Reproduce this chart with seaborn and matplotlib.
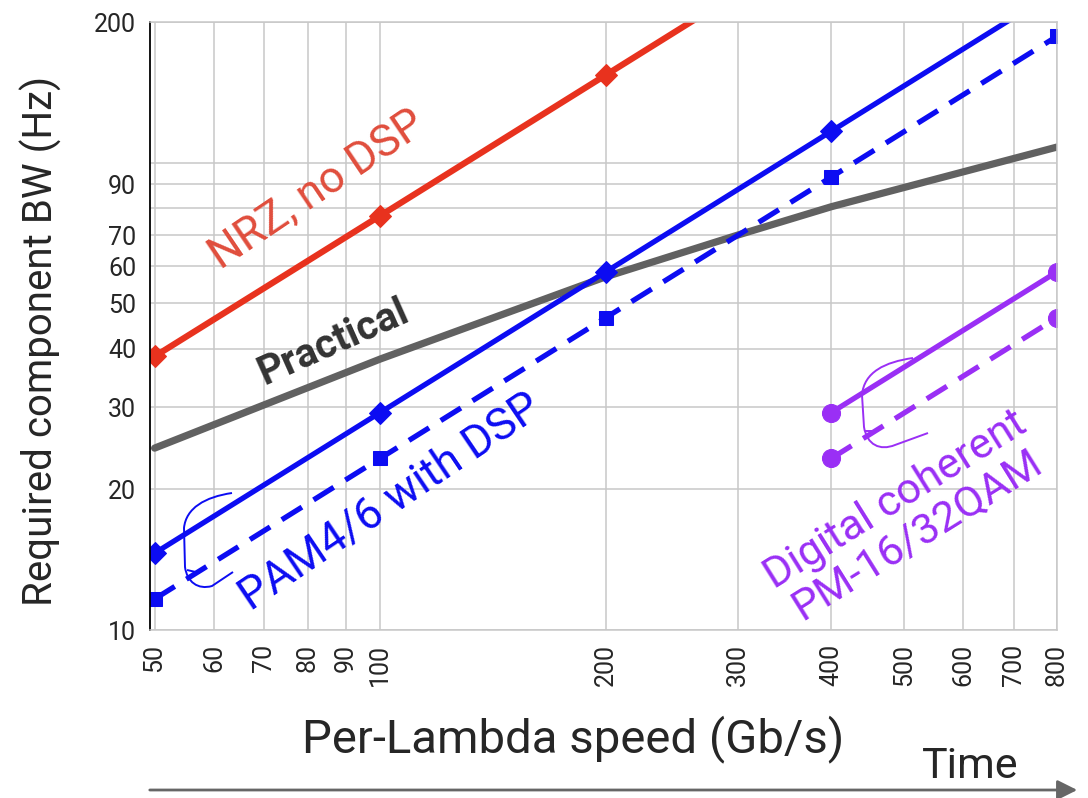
import numpy as np
import pandas as pd
import seaborn as sns
import matplotlib.pyplot as plt
from matplotlib.path import Path
from matplotlib.patches import PathPatch

# Dados
speed = [50, 100, 200, 400, 800]
nrz_x = [50, 100, 200, 400]
nrz_bw = [38.5, 77, 154, 308]
pam_bw = [14.6, 29.2, 58.4, 116.8, 233.6]
pam_bw_dash = [11.65, 23.3, 46.6, 93.2, 186.4]
practical_x = [50, 100, 200, 300, 400, 800]
practical_bw = [24.5, 38, 57, 70, 80.5, 108]
coh_x = [400, 800]
coh_bw = [29.2, 58.4]
coh_bw_dash = [23.3, 46.6]

xticks = [50, 60, 70, 80, 90, 100, 200, 300, 400, 500, 600, 700, 800]
yticks = [10, 20, 30, 40, 50, 60, 70, 80, 90, 100, 200]
ylabels = ['10', '20', '30', '40', '50', '60', '70', '', '90', '', '200']

RED = '#e8321e'
BLUE = '#0c0cf2'
PURPLE = '#9a2ff5'
GRAY = '#616161'

sns.set_style('white')
plt.rcParams['font.family'] = ['Roboto', 'DejaVu Sans']

fig = plt.figure(figsize=(10.88, 7.98), dpi=100)
ax = fig.add_axes([150 / 1088, 168 / 798, 907 / 1088, 608 / 798])

# Linhas
sns.lineplot(x=nrz_x, y=nrz_bw, ax=ax, color=RED, lw=4.5, marker='D', ms=11, mec=RED)
sns.lineplot(x=practical_x, y=practical_bw, ax=ax, color=GRAY, lw=5.2)
sns.lineplot(x=speed, y=pam_bw, ax=ax, color=BLUE, lw=3.8, marker='D', ms=11, mec=BLUE)
sns.lineplot(x=speed, y=pam_bw_dash, ax=ax, color=BLUE, lw=3.8, linestyle=(0, (4.5, 2.6)),
             marker='s', ms=10, mec=BLUE)
sns.lineplot(x=coh_x, y=coh_bw, ax=ax, color=PURPLE, lw=3.8, marker='o', ms=13, mec=PURPLE)
sns.lineplot(x=coh_x, y=coh_bw_dash, ax=ax, color=PURPLE, lw=3.8, linestyle=(0, (4.5, 2.6)),
             marker='o', ms=13, mec=PURPLE)

ax.set_xscale('log')
ax.set_yscale('log')
ax.set_xlim(49.3, 800)
ax.set_ylim(10, 200)
ax.set_xticks(xticks)
ax.set_xticklabels([str(t) for t in xticks], rotation=90)
ax.set_yticks(yticks)
ax.set_yticklabels(ylabels)
ax.minorticks_off()
ax.grid(True, color='#c8c8c8', lw=1.1)
ax.tick_params(axis='y', direction='in', length=11, width=1.2, color='black', labelsize=18, pad=10)
ax.tick_params(axis='x', length=0, labelsize=18, pad=10)

for s in ['top', 'right', 'bottom']:
    ax.spines[s].set_color('#c8c8c8')
    ax.spines[s].set_linewidth(1.1)
ax.spines['left'].set_color('black')
ax.spines['left'].set_linewidth(1.3)

ax.set_xlabel('Per-Lambda speed (Gb/s)', fontsize=34)
ax.xaxis.set_label_coords(0.467, -0.14)
ax.set_ylabel('Required component BW (Hz)', fontsize=29)
ax.yaxis.set_label_coords(-0.097, 0.475)

# Rótulos das curvas
def px(x, y):
    return ((x - 150) / 907, (630 - y) / 608)

ax.text(*px(317, 190), 'NRZ, no DSP', transform=ax.transAxes, color='#e04d3c', fontsize=32,
        rotation=34, ha='center', va='center', rotation_mode='anchor')
ax.text(*px(333, 342), 'Practical', transform=ax.transAxes, color='#333333', fontsize=29,
        fontweight='bold', rotation=24, ha='center', va='center', rotation_mode='anchor')
ax.text(*px(390, 502), 'PAM4/6 with DSP', transform=ax.transAxes, color=BLUE, fontsize=32,
        rotation=34, ha='center', va='center', rotation_mode='anchor')
ax.text(*px(906, 517), 'Digital coherent\nPM-16/32QAM', transform=ax.transAxes, color=PURPLE,
        fontsize=31, rotation=32, ha='center', va='center', rotation_mode='anchor',
        multialignment='center', linespacing=1.0)

# Chaves desenhadas à mão
def brace(pts, codes, color):
    verts = [px(*p) for p in pts]
    patch = PathPatch(Path(verts, codes), transform=ax.transAxes, fill=False,
                      edgecolor=color, lw=1.4, clip_on=False)
    ax.add_patch(patch)

C4, L, M = Path.CURVE4, Path.LINETO, Path.MOVETO
brace([(232, 493), (205, 497), (186, 508), (184, 528), (185, 567),
       (187, 582), (198, 590), (212, 586), (233, 572)],
      [M, C4, C4, C4, L, C4, C4, C4, L], BLUE)
brace([(187, 570), (200, 573)], [M, L], BLUE)
brace([(913, 358), (885, 362), (864, 372), (862, 395), (864, 427),
       (867, 445), (880, 451), (895, 445), (928, 433)],
      [M, C4, C4, C4, L, C4, C4, C4, L], PURPLE)
brace([(865, 431), (876, 431)], [M, L], PURPLE)

# Seta do tempo
ax.annotate('', xy=(1080 / 1088, 8 / 798), xytext=(147 / 1088, 8 / 798),
            xycoords='figure fraction', textcoords='figure fraction',
            arrowprops=dict(arrowstyle='-|>', color='#666666', lw=2, mutation_scale=30))
fig.text(970 / 1088, 20 / 798, 'Time', fontsize=31, ha='center', va='baseline')

plt.savefig('out.png', dpi=100)
